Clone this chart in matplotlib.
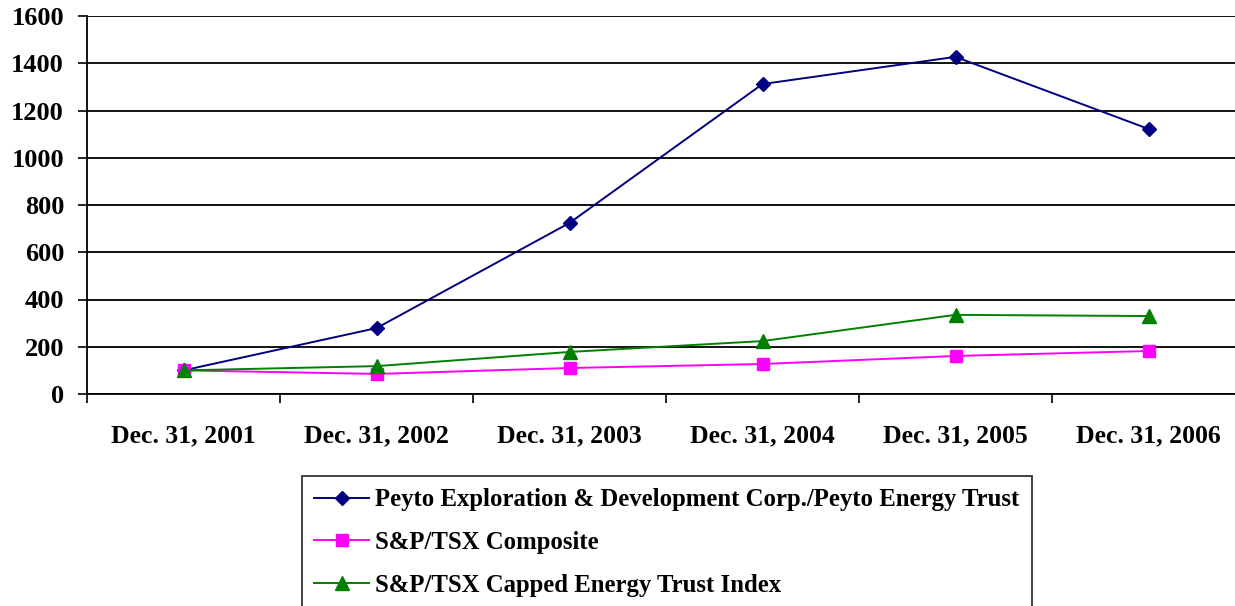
import matplotlib
matplotlib.use('Agg')
import matplotlib.pyplot as plt
import numpy as np

plt.rcParams['font.family'] = ['Liberation Serif', 'DejaVu Serif']
plt.rcParams['font.weight'] = 'bold'

# ---- data ----
years = ['Dec. 31, 2001', 'Dec. 31, 2002', 'Dec. 31, 2003',
         'Dec. 31, 2004', 'Dec. 31, 2005', 'Dec. 31, 2006']
peyto = [100, 279, 724, 1312, 1427, 1122]
composite = [100, 85, 110, 127, 161, 182]
energy_trust = [100, 118, 178, 224, 335, 330]
names = ['Peyto Exploration & Development Corp./Peyto Energy Trust',
         'S&P/TSX Composite',
         'S&P/TSX Capped Energy Trust Index']
yticks = [0, 200, 400, 600, 800, 1000, 1200, 1400, 1600]

C_PEYTO = '#000080'
C_COMP = '#ff00ff'
C_TRUST = '#008000'

fig = plt.figure(figsize=(12.35, 6.06), dpi=100)
ax = fig.add_axes([87/1235, 1 - 394/606, 1158/1235, 378/606])

x = np.arange(len(years))
ax.plot(x, peyto, color=C_PEYTO, lw=1.4, marker='D', ms=7, label=names[0])
ax.plot(x, composite, color=C_COMP, lw=1.4, marker='s', ms=8.5, label=names[1])
ax.plot(x, energy_trust, color=C_TRUST, lw=1.4, marker='^', ms=9.5, label=names[2])

ax.set_xlim(-0.5, len(years) - 0.5)
ax.set_ylim(0, 1600)
ax.set_yticks(yticks)
ax.set_yticklabels([str(v) for v in yticks], fontsize=19, fontweight='bold')
ax.set_xticks(x)
ax.set_xticklabels(years, fontsize=18.5, fontweight='bold')
ax.set_xticks(np.arange(-0.5, len(years), 1.0), minor=True)
ax.tick_params(axis='x', which='major', length=0, pad=22)
ax.tick_params(axis='x', which='minor', length=6.5, width=1.2, direction='out')
ax.tick_params(axis='y', length=6.5, width=1.2, direction='out', pad=10)

ax.yaxis.grid(True, color='black', lw=1.3)
ax.set_axisbelow(True)
for s in ['top', 'right']:
    ax.spines[s].set_visible(False)
ax.spines['left'].set_linewidth(1.3)
ax.spines['bottom'].set_linewidth(1.3)

leg = fig.legend(loc='upper left', bbox_to_anchor=(302/1235, 1 - 476/606),
                 fontsize=17.8, frameon=True, fancybox=False, edgecolor='black',
                 handlelength=2.2, handletextpad=0.25, labelspacing=0.8,
                 borderpad=0.5, borderaxespad=0)
leg.get_frame().set_linewidth(1.3)
for t in leg.get_texts():
    t.set_fontweight('bold')

fig.savefig('out.png', dpi=100)
